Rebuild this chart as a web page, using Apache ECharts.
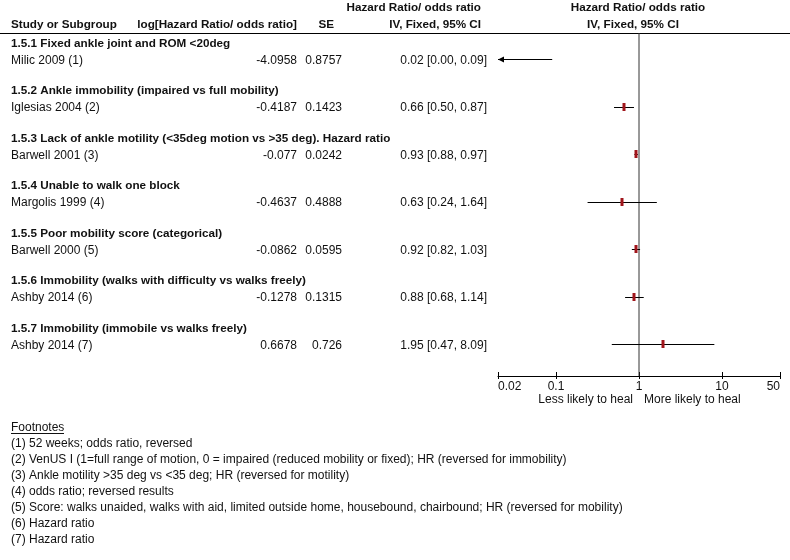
<!DOCTYPE html>
<html>
<head>
<meta charset="utf-8">
<script src="https://cdn.jsdelivr.net/npm/echarts@6/dist/echarts.min.js"></script>
<style>
  html, body { margin: 0; padding: 0; background: #fff; }
  #chart { width: 790px; height: 560px; }
</style>
</head>
<body>
<div id="chart"></div>
<script>
// subgroup titles and studies, one study per subgroup
const subgroups = [
  '1.5.1 Fixed ankle joint and ROM <20deg',
  '1.5.2 Ankle immobility (impaired vs full mobility)',
  '1.5.3 Lack of ankle motility (<35deg motion vs >35 deg). Hazard ratio',
  '1.5.4 Unable to walk one block',
  '1.5.5 Poor mobility score (categorical)',
  '1.5.6 Immobility (walks with difficulty vs walks freely)',
  '1.5.7 Immobility (immobile vs walks freely)'
];
const studies = ['Milic 2009 (1)', 'Iglesias 2004 (2)', 'Barwell 2001 (3)', 'Margolis 1999 (4)',
  'Barwell 2000 (5)', 'Ashby 2014 (6)', 'Ashby 2014 (7)'];
const logRatio = ['-4.0958', '-0.4187', '-0.077', '-0.4637', '-0.0862', '-0.1278', '0.6678'];
const seValues = ['0.8757', '0.1423', '0.0242', '0.4888', '0.0595', '0.1315', '0.726'];
const ratio = [0.02, 0.66, 0.93, 0.63, 0.92, 0.88, 1.95];
const ciLow = [0.00, 0.50, 0.88, 0.24, 0.82, 0.68, 0.47];
const ciHigh = [0.09, 0.87, 0.97, 1.64, 1.03, 1.14, 8.09];

const footnotes = [
  '(1) 52 weeks; odds ratio, reversed',
  '(2) VenUS I (1=full range of motion, 0 = impaired (reduced mobility or fixed); HR (reversed for immobility)',
  '(3) Ankle motility >35 deg vs <35 deg; HR (reversed for motility)',
  '(4) odds ratio; reversed results',
  '(5) Score: walks unaided, walks with aid, limited outside home, housebound, chairbound; HR (reversed for mobility)',
  '(6) Hazard ratio',
  '(7) Hazard ratio'
];

const X_MIN = 0.02, X_MAX = 50;
const Y_MIN = -0.558, Y_MAX = 6.663;
const HEADER_OFFSET = 0.34; // subgroup title sits a bit above its study row
const FONT = '12px "Liberation Sans", Arial, sans-serif';
const BOLD = 'bold 11.7px "Liberation Sans", Arial, sans-serif';
const INK = '#111';
const MARK = '#a0151b';

const rows = studies.map((s, i) => [ratio[i], ciLow[i], ciHigh[i], i]);

function crisp(v) { return Math.round(v - 0.5) + 0.5; }

function txt(text, x, y, align, font) {
  return { type: 'text', style: { text, x, y, align, verticalAlign: 'middle', font: font || FONT, fill: INK } };
}

// left-hand table: subgroup title, study name, log value, SE, ratio [CI]
function renderTable(params, api) {
  const i = api.value(3);
  const y = api.coord([1, i])[1] + 1;
  const yh = api.coord([1, i - HEADER_OFFSET])[1];
  return {
    type: 'group',
    children: [
      txt(subgroups[i], 11, yh, 'left', BOLD),
      txt(studies[i], 11, y, 'left'),
      txt(logRatio[i], 297, y, 'right'),
      txt(seValues[i], 342, y, 'right'),
      txt(ratio[i].toFixed(2) + ' [' + ciLow[i].toFixed(2) + ', ' + ciHigh[i].toFixed(2) + ']', 487, y, 'right')
    ]
  };
}

// forest plot marks: CI line (arrow when cut by the axis) and the point estimate
function renderForest(params, api) {
  const i = api.value(3);
  const est = api.value(0), lo = api.value(1), hi = api.value(2);
  const y = crisp(api.coord([1, i])[1]);
  const xl = api.coord([Math.max(lo, X_MIN), i])[0];
  const xh = api.coord([Math.min(hi, X_MAX), i])[0];
  const children = [{
    type: 'line', shape: { x1: xl, y1: y, x2: xh, y2: y },
    style: { stroke: '#000', lineWidth: 1 }
  }];
  if (lo < X_MIN) {
    children.push({ type: 'polygon', shape: { points: [[xl, y], [xl + 6, y - 3], [xl + 6, y + 3]] }, style: { fill: '#000' } });
  }
  if (hi > X_MAX) {
    children.push({ type: 'polygon', shape: { points: [[xh, y], [xh - 6, y - 3], [xh - 6, y + 3]] }, style: { fill: '#000' } });
  }
  if (est > X_MIN && est < X_MAX) {
    const xe = api.coord([est, i])[0];
    children.push({ type: 'rect', shape: { x: Math.round(xe) - 1.5, y: y - 4.5, width: 3, height: 8 }, style: { fill: MARK } });
  }
  return { type: 'group', children };
}

const chart = echarts.init(document.getElementById('chart'));

const baseX = {
  type: 'log',
  min: X_MIN,
  max: X_MAX,
  position: 'bottom',
  splitLine: { show: false },
  minorTick: { show: false }
};

chart.setOption({
  animation: false,
  grid: { left: 498, right: 10, top: 33, height: 343 },
  xAxis: [
    Object.assign({}, baseX, {
      axisLine: { show: true, onZero: false, lineStyle: { color: '#000', width: 1 } },
      axisTick: { show: true, inside: true, length: 4, lineStyle: { color: '#000' } },
      axisLabel: {
        show: true, margin: 5, color: INK, fontSize: 12, fontFamily: '"Liberation Sans", Arial, sans-serif',
        alignMinLabel: 'left', alignMaxLabel: 'right',
        formatter: v => String(parseFloat(Number(v).toPrecision(3)))
      }
    }),
    Object.assign({}, baseX, {
      axisLine: { show: false, onZero: false },
      axisTick: { show: true, inside: false, length: 3, lineStyle: { color: '#000' } },
      axisLabel: { show: false }
    })
  ],
  yAxis: { type: 'value', inverse: true, min: Y_MIN, max: Y_MAX, show: false },
  graphic: [
    { type: 'line', shape: { x1: 0, y1: 33.5, x2: 790, y2: 33.5 }, style: { stroke: '#000', lineWidth: 1 } },
    { type: 'text', x: 481, y: 8, style: { text: 'Hazard Ratio/ odds ratio', align: 'right', verticalAlign: 'middle', font: BOLD, fill: INK } },
    { type: 'text', x: 11, y: 24.5, style: { text: 'Study or Subgroup', align: 'left', verticalAlign: 'middle', font: BOLD, fill: INK } },
    { type: 'text', x: 297, y: 24.5, style: { text: 'log[Hazard Ratio/ odds ratio]', align: 'right', verticalAlign: 'middle', font: BOLD, fill: INK } },
    { type: 'text', x: 334, y: 24.5, style: { text: 'SE', align: 'right', verticalAlign: 'middle', font: BOLD, fill: INK } },
    { type: 'text', x: 481, y: 24.5, style: { text: 'IV, Fixed, 95% CI', align: 'right', verticalAlign: 'middle', font: BOLD, fill: INK } },
    { type: 'text', x: 638, y: 8, style: { text: 'Hazard Ratio/ odds ratio', align: 'center', verticalAlign: 'middle', font: BOLD, fill: INK } },
    { type: 'text', x: 633, y: 24.5, style: { text: 'IV, Fixed, 95% CI', align: 'center', verticalAlign: 'middle', font: BOLD, fill: INK } },
    { type: 'text', x: 633, y: 400, style: { text: 'Less likely to heal', align: 'right', verticalAlign: 'middle', font: FONT, fill: INK } },
    { type: 'text', x: 644, y: 400, style: { text: 'More likely to heal', align: 'left', verticalAlign: 'middle', font: FONT, fill: INK } },
    { type: 'text', x: 11, y: 427.5, style: { text: 'Footnotes', align: 'left', verticalAlign: 'middle', font: FONT, fill: INK } },
    { type: 'line', shape: { x1: 11, y1: 433.5, x2: 64, y2: 433.5 }, style: { stroke: INK, lineWidth: 1 } },
    { type: 'text', x: 11, y: 435.5, style: { text: footnotes.join('\n'), align: 'left', verticalAlign: 'top', font: FONT, lineHeight: 16, fill: INK } }
  ],
  series: [
    {
      name: 'no effect',
      type: 'line',
      data: [[1, Y_MIN], [1, Y_MAX]],
      symbol: 'none',
      silent: true,
      lineStyle: { color: '#333', width: 1 },
      z: 1
    },
    {
      name: 'table',
      type: 'custom',
      data: rows,
      encode: { x: 0, y: 3 },
      renderItem: renderTable,
      clip: false,
      silent: true
    },
    {
      name: 'forest',
      type: 'custom',
      data: rows,
      encode: { x: [0, 1, 2], y: 3 },
      renderItem: renderForest,
      clip: false,
      silent: true,
      z: 3
    }
  ]
});
</script>
</body>
</html>
